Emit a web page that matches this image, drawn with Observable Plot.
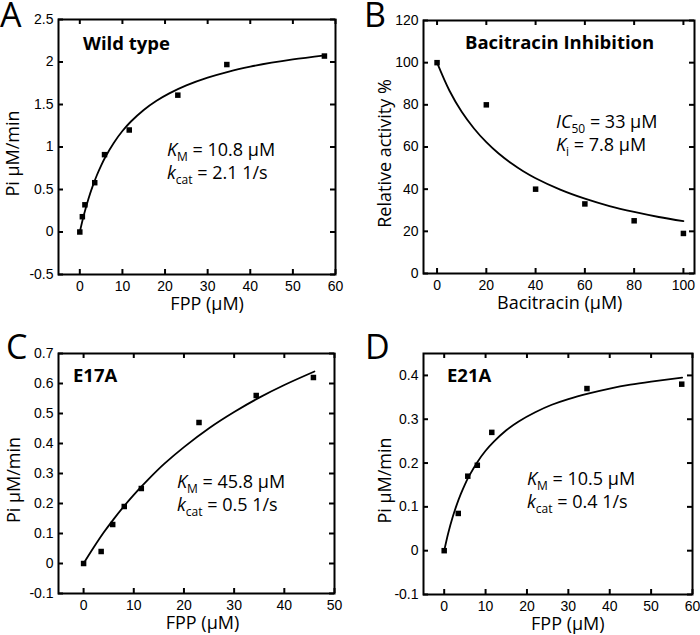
<!DOCTYPE html>
<html><head><meta charset="utf-8">
<script src="https://cdn.jsdelivr.net/npm/d3@7"></script>
<script src="https://cdn.jsdelivr.net/npm/@observablehq/plot@0.6"></script>
<style>
html,body{margin:0;padding:0;background:#fff;}
#chart{position:relative;width:700px;height:635px;overflow:hidden;background:#fff;}
#chart svg{position:absolute;left:0;top:0;}
</style></head><body><div id="chart"></div>
<script>
// ---- Panel A: Wild type ----
const wtFPP = [0, 0.6, 1.2, 3.5, 5.8, 11.6, 23, 34.5, 57.4];
const wtRate = [0, 0.18, 0.32, 0.58, 0.91, 1.20, 1.61, 1.97, 2.07];
const wtFitFPP = [0, 0.5, 1, 2, 3, 4, 5, 6, 8, 10, 12, 15, 18, 21, 25, 30, 35, 40, 45, 50, 57.5];
const wtFitRate = [0, 0.109, 0.209, 0.386, 0.537, 0.668, 0.782, 0.882, 1.051, 1.188, 1.300, 1.436, 1.544, 1.631, 1.725, 1.816, 1.888, 1.945, 1.992, 2.031, 2.079];
const wtXTicks = [0, 10, 20, 30, 40, 50, 60];
const wtYTicks = [-0.5, 0, 0.5, 1, 1.5, 2, 2.5];

// ---- Panel B: Bacitracin inhibition ----
const bacConc = [0, 20, 40, 60, 80, 100];
const bacActivity = [100, 80, 40, 33, 25, 19];
const bacFitConc = [0, 5, 10, 15, 20, 25, 30, 35, 40, 50, 60, 70, 80, 90, 100];
const bacFitActivity = [100, 86.8, 76.7, 68.8, 62.3, 56.9, 52.4, 48.5, 45.2, 39.8, 35.5, 32.0, 29.2, 26.8, 24.8];
const bacXTicks = [0, 20, 40, 60, 80, 100];
const bacYTicks = [0, 20, 40, 60, 80, 100, 120];

// ---- Panel C: E17A ----
const e17FPP = [0, 3.5, 5.8, 8.1, 11.5, 23, 34.4, 45.8];
const e17Rate = [0, 0.04, 0.13, 0.19, 0.25, 0.47, 0.56, 0.62];
const e17FitFPP = [0, 2, 4, 6, 8, 10, 13, 16, 20, 25, 30, 35, 40, 46];
const e17FitRate = [0, 0.053, 0.103, 0.148, 0.190, 0.229, 0.282, 0.331, 0.388, 0.451, 0.505, 0.553, 0.595, 0.640];
const e17XTicks = [0, 10, 20, 30, 40, 50];
const e17YTicks = [-0.1, 0, 0.1, 0.2, 0.3, 0.4, 0.5, 0.6, 0.7];

// ---- Panel D: E21A ----
const e21FPP = [0, 3.4, 5.7, 8.0, 11.5, 34.5, 57.4];
const e21Rate = [0, 0.085, 0.17, 0.195, 0.27, 0.37, 0.38];
const e21FitFPP = [0, 1, 2, 3, 4, 5, 6, 8, 10, 12, 15, 18, 22, 26, 30, 35, 40, 45, 50, 57.5];
const e21FitRate = [0, 0.041, 0.075, 0.104, 0.129, 0.151, 0.170, 0.202, 0.228, 0.249, 0.275, 0.295, 0.316, 0.333, 0.346, 0.359, 0.370, 0.379, 0.386, 0.395];
const e21XTicks = [0, 10, 20, 30, 40, 50, 60];
const e21YTicks = [-0.1, 0, 0.1, 0.2, 0.3, 0.4];

// ---- Texts ----
const panelLetters = ["A", "B", "C", "D"];
const panelTitles = ["Wild type", "Bacitracin Inhibition", "E17A", "E21A"];
const xLabels = ["FPP (μM)", "Bacitracin (μM)", "FPP (μM)", "FPP (μM)"];
const yLabels = ["Pi μM/min", "Relative activity %", "Pi μM/min", "Pi μM/min"];
const notes = [
  [[["K", "i"], ["M", "s"], [" = 10.8 μM", ""]], [["k", "i"], ["cat", "s"], [" = 2.1 1/s", ""]]],
  [[["IC", "i"], ["50", "s"], [" = 33 μM", ""]], [["K", "i"], ["i", "s"], [" = 7.8 μM", ""]]],
  [[["K", "i"], ["M", "s"], [" = 45.8 μM", ""]], [["k", "i"], ["cat", "s"], [" = 0.5 1/s", ""]]],
  [[["K", "i"], ["M", "s"], [" = 10.5 μM", ""]], [["k", "i"], ["cat", "s"], [" = 0.4 1/s", ""]]]
];

const panels = [
  {px: wtFPP, py: wtRate, fx: wtFitFPP, fy: wtFitRate, xt: wtXTicks, yt: wtYTicks,
   xd: [-5, 60], yd: [-0.5, 2.5], m: [58, 365, 19, 361],
   letter: [0, 27], title: [83, 50], note: [167, 156], xlab: 0, ylabX: 19},
  {px: bacConc, py: bacActivity, fx: bacFitConc, fy: bacFitActivity, xt: bacXTicks, yt: bacYTicks,
   xd: [-5.5, 104.5], yd: [0, 120], m: [423, 6, 20, 362],
   letter: [364, 27], title: [465, 49], note: [556, 128], xlab: 0, ylabX: 391},
  {px: e17FPP, py: e17Rate, fx: e17FitFPP, fy: e17FitRate, xt: e17XTicks, yt: e17YTicks,
   xd: [-5, 50], yd: [-0.1, 0.7], m: [58, 366, 353, 42],
   letter: [6, 359], title: [73, 382], note: [177, 488], xlab: -6, ylabX: 20},
  {px: e21FPP, py: e21Rate, fx: e21FitFPP, fy: e21FitRate, xt: e21XTicks, yt: e21YTicks,
   xd: [-5, 60], yd: [-0.1, 0.45], m: [423, 8, 353, 41],
   letter: [365, 359], title: [447, 382], note: [527, 485], xlab: 0, ylabX: 391}
];

const tickFont = "'Liberation Sans', Arial, sans-serif";
const textFont = "'Open Sans', 'Noto Sans', sans-serif";
const chart = document.getElementById("chart");
const W = 700, H = 635, tickLen = 5;

panels.forEach((p, k) => {
  const pts = p.px.map((x, i) => ({x, y: p.py[i]}));
  const fit = p.fx.map((x, i) => ({x, y: p.fy[i]}));
  const fmt = d => String(d);
  const fw = W - p.m[0] - p.m[1];   // frame width (px)
  const fh = H - p.m[2] - p.m[3];   // frame height (px)
  const tk = {stroke: "black", strokeWidth: 2};
  const plot = Plot.plot({
    width: W, height: H,
    marginLeft: p.m[0], marginRight: p.m[1], marginTop: p.m[2], marginBottom: p.m[3],
    style: {background: "transparent", overflow: "visible", fontFamily: tickFont, fontSize: "14px", color: "black"},
    x: {domain: p.xd, label: null},
    y: {domain: p.yd, label: null},
    marks: [
      Plot.line(fit, {x: "x", y: "y", stroke: "black", strokeWidth: 1.8, curve: "catmull-rom"}),
      Plot.dot(pts, {x: "x", y: "y", symbol: "square", r: 3.1, fill: "black", stroke: "none"}),
      Plot.axisX({anchor: "bottom", ticks: p.xt, tickSize: 0, tickPadding: 7, tickFormat: fmt, fontSize: 14, label: null}),
      Plot.axisY({anchor: "left", ticks: p.yt, tickSize: 0, tickPadding: 5, tickFormat: fmt, fontSize: 14, label: null}),
      // inward tick marks on all four sides of the frame
      Plot.ruleX(p.xt, {x: d => d, insetTop: fh - tickLen, ...tk}),
      Plot.ruleX(p.xt, {x: d => d, insetBottom: fh - tickLen, ...tk}),
      Plot.ruleY(p.yt, {y: d => d, insetRight: fw - tickLen, ...tk}),
      Plot.ruleY(p.yt, {y: d => d, insetLeft: fw - tickLen, ...tk}),
      Plot.frame({stroke: "black", strokeWidth: 2})
    ]
  });
  chart.appendChild(plot);
  const svg = d3.select(plot);
  const xs = plot.scale("x");
  const top = p.m[2], bottom = H - p.m[3];

  const g = svg.append("g").attr("text-anchor", "start").attr("font-family", textFont).attr("fill", "black");
  // panel letter
  g.append("text").attr("x", p.letter[0]).attr("y", p.letter[1])
    .attr("font-size", 34).text(panelLetters[k]);
  // title
  g.append("text").attr("x", p.title[0]).attr("y", p.title[1])
    .attr("font-size", 18.5).attr("font-weight", "bold").text(panelTitles[k]);
  // x label
  const xmid = (xs.apply(p.xt[0]) + xs.apply(p.xt[p.xt.length - 1])) / 2 + p.xlab;
  g.append("text").attr("x", xmid).attr("y", bottom + 36).attr("text-anchor", "middle")
    .attr("font-size", 18).text(xLabels[k]);
  // y label
  const ymid = (top + bottom) / 2 + 7;
  g.append("text").attr("transform", `translate(${p.ylabX},${ymid}) rotate(-90)`).attr("text-anchor", "middle")
    .attr("font-size", 18).text(yLabels[k]);
  // annotations
  notes[k].forEach((line, li) => {
    const t = g.append("text").attr("x", p.note[0]).attr("y", p.note[1] + li * 22.5)
      .attr("font-size", 18);
    let shifted = false;
    line.forEach(([s, kind]) => {
      const ts = t.append("tspan").text(s);
      if (kind === "i") ts.attr("font-style", "italic");
      if (kind === "s") { ts.attr("font-size", 12).attr("dy", 5); shifted = true; }
      else if (shifted) { ts.attr("dy", -5); shifted = false; }
    });
  });
});
</script></body></html>
